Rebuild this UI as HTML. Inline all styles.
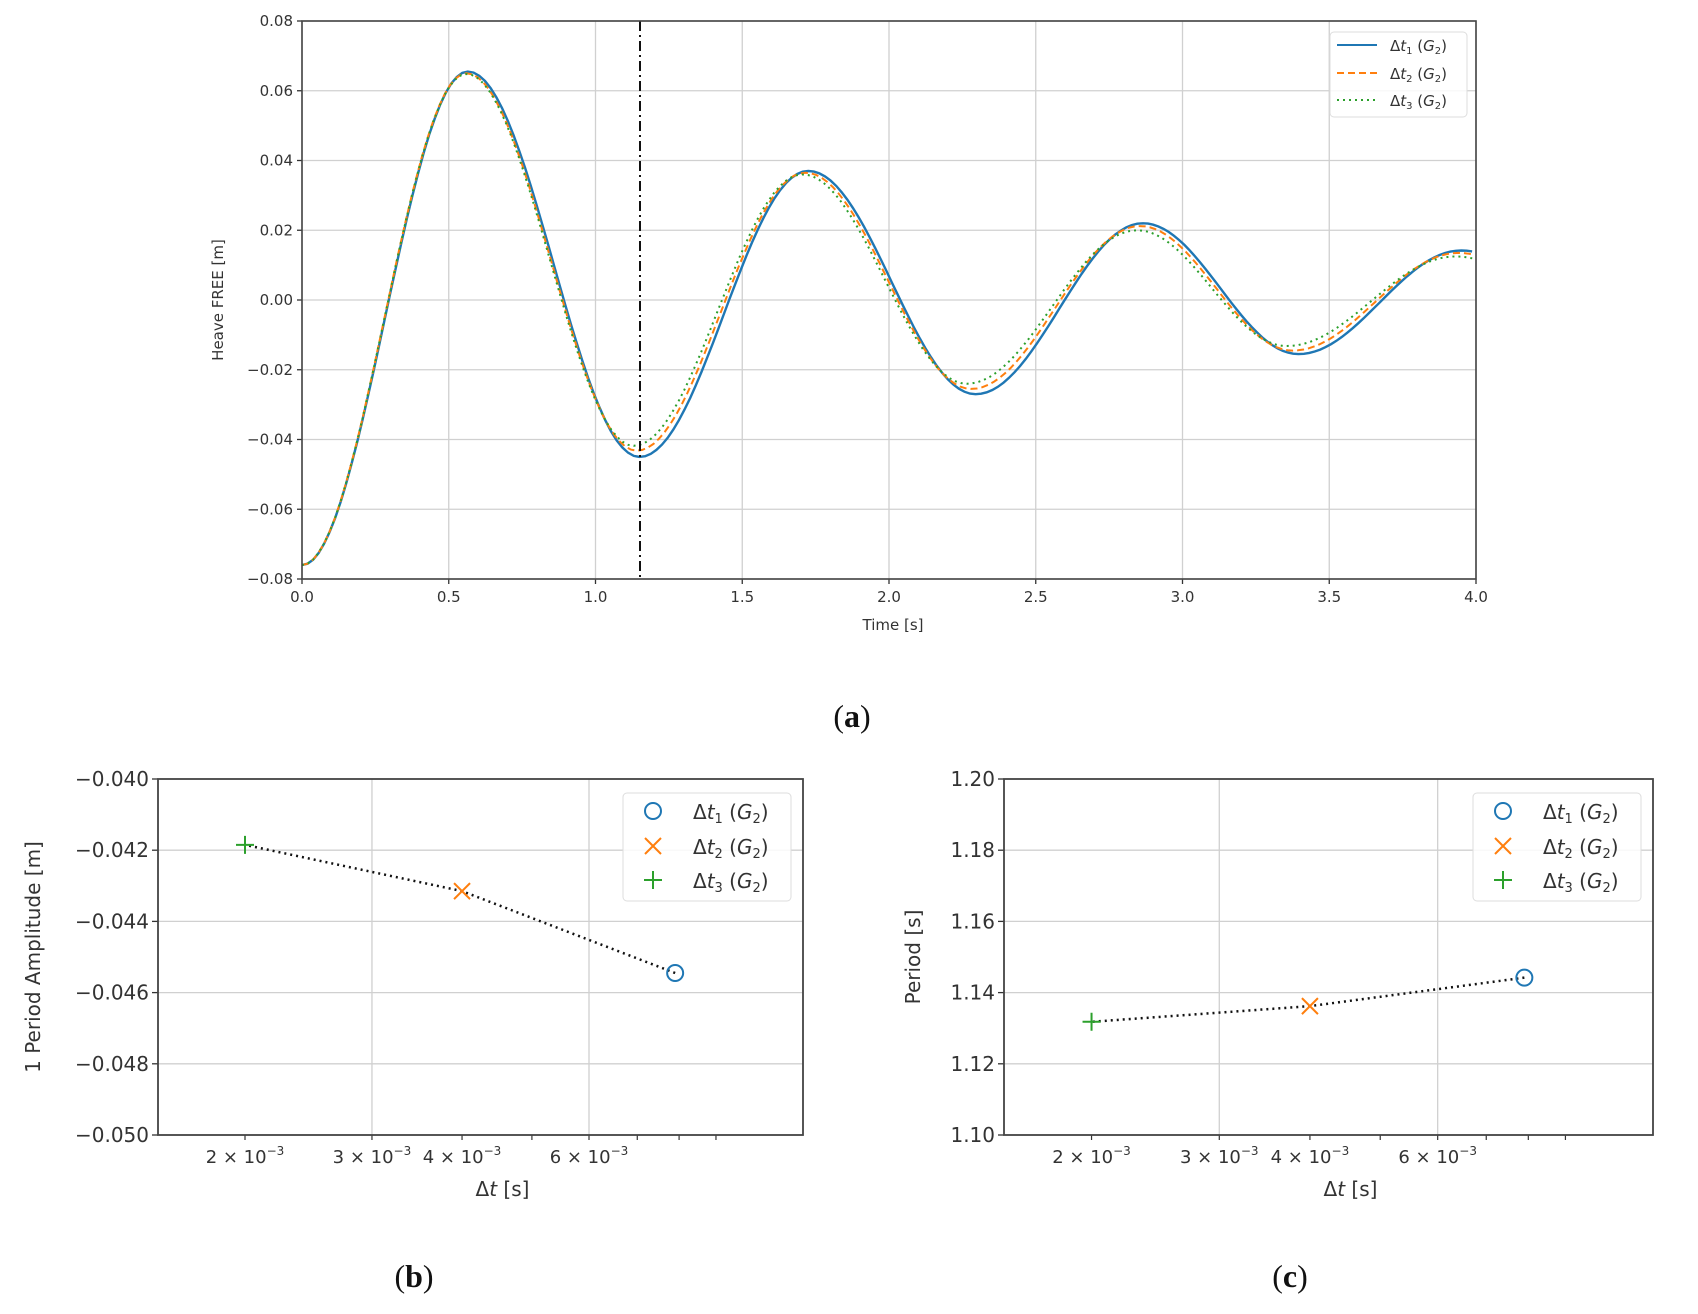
<!DOCTYPE html>
<html><head><meta charset="utf-8">
<style>
html,body{margin:0;padding:0;background:#fff;}
svg{display:block;}
text{font-family:"DejaVu Sans","Liberation Sans",sans-serif;fill:#333;}
.cap{font-family:"Liberation Serif",serif;fill:#111;font-size:32px;}
</style></head>
<body>
<svg id="s" width="1698" height="1314" viewBox="0 0 1698 1314" xmlns="http://www.w3.org/2000/svg"></svg>
<script>
const S=document.getElementById('s');let h='';
const B='#1f77b4',O='#ff7f0e',G='#2ca02c';
const L=302,R=1476,T=21,Bt=579;
const X=t=>L+(R-L)*t/4, Y=v=>Bt-(Bt-T)*(v+0.08)/0.16;
for(let i=0;i<=8;i++){const x=X(i*0.5);h+=`<line x1="${x}" y1="${T}" x2="${x}" y2="${Bt}" stroke="#d0d0d0" stroke-width="1.3"/>`;
 h+=`<line x1="${x}" y1="${Bt}" x2="${x}" y2="${Bt+5}" stroke="#333" stroke-width="1.3"/>`;
 h+=`<text x="${x}" y="${Bt+23}" font-size="15" text-anchor="middle">${(i*0.5).toFixed(1)}</text>`;}
for(let i=0;i<=8;i++){const v=-0.08+i*0.02,y=Y(v);h+=`<line x1="${L}" y1="${y}" x2="${R}" y2="${y}" stroke="#d0d0d0" stroke-width="1.3"/>`;
 h+=`<line x1="${L-5}" y1="${y}" x2="${L}" y2="${y}" stroke="#333" stroke-width="1.3"/>`;
 h+=`<text x="${L-9}" y="${y+5}" font-size="15" text-anchor="end">${v<0?'−':''}${Math.abs(v).toFixed(2)}</text>`;}
function curve(ext,col,dash,w){
 let p='';
 for(let k=0;k<ext.length-1;k++){const [t0,v0]=ext[k],[t1,v1]=ext[k+1];
  for(let j=0;j<=30;j++){if(k>0&&j==0)continue;const t=t0+(t1-t0)*j/30;if(t>4)break;
   const v=v0+(v1-v0)*(1-Math.cos(Math.PI*j/30))/2;p+=(p?'L':'M')+X(t).toFixed(1)+','+Y(v).toFixed(1);}}
 return `<path d="${p}" fill="none" stroke="${col}" stroke-width="${w}" ${dash?`stroke-dasharray="${dash}"`:''}/>`;}
h+=curve([[0,-0.076],[0.565,0.0655],[1.15,-0.045],[1.725,0.037],[2.295,-0.027],[2.865,0.022],[3.395,-0.0155],[3.95,0.0142],[4.5,-0.01]],B,'',2.4);
h+=curve([[0,-0.076],[0.56,0.065],[1.14,-0.0432],[1.715,0.0365],[2.28,-0.0255],[2.855,0.0212],[3.375,-0.0145],[3.94,0.0135],[4.5,-0.01]],O,'7,4',2);
h+=curve([[0,-0.076],[0.56,0.0648],[1.13,-0.0418],[1.705,0.036],[2.265,-0.024],[2.845,0.0200],[3.355,-0.0132],[3.93,0.0125],[4.5,-0.01]],G,'2,4',2);
h+=`<line x1="640" y1="${T}" x2="640" y2="${Bt}" stroke="#111" stroke-width="2" stroke-dasharray="10,4,2,4"/>`;
h+=`<rect x="${L}" y="${T}" width="${R-L}" height="${Bt-T}" fill="none" stroke="#444" stroke-width="1.6"/>`;
h+=`<rect x="1330" y="32" width="137" height="85" rx="4" fill="#fff" fill-opacity="0.85" stroke="#ddd"/>`;
[[45,B,''],[73,O,'7,4'],[100,G,'2,4']].forEach((r,i)=>{h+=`<line x1="1337" y1="${r[0]}" x2="1377" y2="${r[0]}" stroke="${r[1]}" stroke-width="2" ${r[2]?`stroke-dasharray="${r[2]}"`:''}/>`;
 h+=`<text x="1390" y="${r[0]+6}" font-size="15">Δ<tspan font-style="italic">t</tspan><tspan font-size="10" dy="3">${i+1}</tspan><tspan dy="-3"> (</tspan><tspan font-style="italic">G</tspan><tspan font-size="10" dy="3">2</tspan><tspan dy="-3">)</tspan></text>`;});
h+=`<text x="893" y="630" font-size="15" text-anchor="middle">Time [s]</text>`;
h+=`<text transform="translate(223,300) rotate(-90)" font-size="15" text-anchor="middle">Heave FREE [m]</text>`;
h+=`<text class="cap" x="852" y="727" text-anchor="middle">(<tspan font-weight="bold">a</tspan>)</text>`;
function small(Lx,Rx,y0,y1,yt,fmt,pts,ylab,ylx,cap){
 const Tt=779,Bb=1135;const per=(Rx-Lx)*721/645;const x2=Lx+(245-158)*(Rx-Lx)/645;
 const lx=v=>x2+per*Math.log10(v/2e-3);const ly=v=>Bb-(Bb-Tt)*(v-y0)/(y1-y0);
 [3e-3,6e-3].forEach(v=>h+=`<line x1="${lx(v)}" y1="${Tt}" x2="${lx(v)}" y2="${Bb}" stroke="#d0d0d0" stroke-width="1.3"/>`);
 for(let i=0;i<=5;i++){const v=y0+i*(y1-y0)/5,y=ly(v);h+=`<line x1="${Lx}" y1="${y}" x2="${Rx}" y2="${y}" stroke="#d0d0d0" stroke-width="1.3"/>`;
  h+=`<line x1="${Lx-6}" y1="${y}" x2="${Lx}" y2="${y}" stroke="#333" stroke-width="1.3"/>`;
  h+=`<text x="${Lx-9}" y="${y+7}" font-size="20" text-anchor="end">${fmt(v)}</text>`;}
 [2e-3,3e-3,4e-3,5e-3,6e-3,7e-3,8e-3,9e-3].forEach(v=>{const x=lx(v);if(x<Rx)h+=`<line x1="${x}" y1="${Bb}" x2="${x}" y2="${Bb+5}" stroke="#333" stroke-width="1.2"/>`;});
 [2,3,4,6].forEach(m=>{const x=lx(m*1e-3);h+=`<text x="${x}" y="${Bb+28}" font-size="18" text-anchor="middle">${m} × 10<tspan font-size="12" dy="-8">−3</tspan></text>`;});
 const P=pts.map(p=>[lx(p[0]),ly(p[1])]);
 h+=`<polyline points="${P.map(p=>p.join(',')).join(' ')}" fill="none" stroke="#111" stroke-width="2.5" stroke-dasharray="2,4"/>`;
 h+=`<circle cx="${P[0][0]}" cy="${P[0][1]}" r="8" fill="none" stroke="${B}" stroke-width="2"/>`;
 h+=`<path d="M${P[1][0]-8},${P[1][1]-8}L${P[1][0]+8},${P[1][1]+8}M${P[1][0]-8},${P[1][1]+8}L${P[1][0]+8},${P[1][1]-8}" stroke="${O}" stroke-width="2"/>`;
 h+=`<path d="M${P[2][0]-9},${P[2][1]}L${P[2][0]+9},${P[2][1]}M${P[2][0]},${P[2][1]-9}L${P[2][0]},${P[2][1]+9}" stroke="${G}" stroke-width="2"/>`;
 h+=`<rect x="${Lx}" y="${Tt}" width="${Rx-Lx}" height="${Bb-Tt}" fill="none" stroke="#444" stroke-width="1.8"/>`;
 const gx=Rx-180,gw=168;
 h+=`<rect x="${gx}" y="793" width="${gw}" height="108" rx="4" fill="#fff" fill-opacity="0.85" stroke="#ddd"/>`;
 const mx=gx+30;
 h+=`<circle cx="${mx}" cy="811" r="8" fill="none" stroke="${B}" stroke-width="2"/>`;
 h+=`<path d="M${mx-8},838L${mx+8},854M${mx-8},854L${mx+8},838" stroke="${O}" stroke-width="2"/>`;
 h+=`<path d="M${mx-9},880L${mx+9},880M${mx},871L${mx},889" stroke="${G}" stroke-width="2"/>`;
 [811,846,880].forEach((y,i)=>h+=`<text x="${gx+70}" y="${y+8}" font-size="20">Δ<tspan font-style="italic">t</tspan><tspan font-size="13" dy="4">${i+1}</tspan><tspan dy="-4"> (</tspan><tspan font-style="italic">G</tspan><tspan font-size="13" dy="4">2</tspan><tspan dy="-4">)</tspan></text>`);
 h+=`<text x="${(Lx+Rx)/2+22}" y="1196" font-size="20" text-anchor="middle">Δ<tspan font-style="italic">t</tspan> [s]</text>`;
 h+=`<text transform="translate(${ylx},${(Tt+Bb)/2}) rotate(-90)" font-size="20" text-anchor="middle">${ylab}</text>`;
 h+=`<text class="cap" x="${cap}" y="1287" text-anchor="middle">(<tspan font-weight="bold">${cap<900?'b':'c'}</tspan>)</text>`;
}
small(158,803,-0.050,-0.040,0,v=>'−'+Math.abs(v).toFixed(3),[[7.9e-3,-0.04545],[4e-3,-0.04315],[2e-3,-0.04185]],'1 Period Amplitude [m]',40,414);
small(1004,1653,1.10,1.20,0,v=>v.toFixed(2),[[7.9e-3,1.1442],[4e-3,1.1362],[2e-3,1.1318]],'Period [s]',920,1290);
S.innerHTML=h;
</script>
</body></html>
